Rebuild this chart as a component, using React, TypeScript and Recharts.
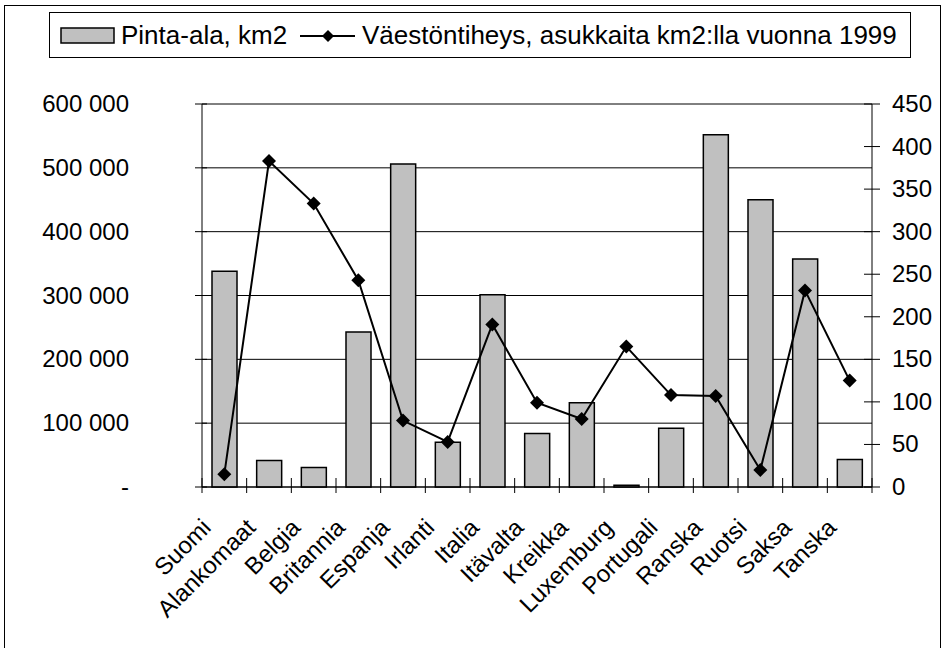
import { Bar, CartesianGrid, ComposedChart, Line, XAxis, YAxis } from "recharts";

const categories = [
  "Suomi",
  "Alankomaat",
  "Belgia",
  "Britannia",
  "Espanja",
  "Irlanti",
  "Italia",
  "Itävalta",
  "Kreikka",
  "Luxemburg",
  "Portugali",
  "Ranska",
  "Ruotsi",
  "Saksa",
  "Tanska",
];

// km2
const area = [
  338000, 41500, 30500, 243000, 506000, 70300, 301300, 83900, 132000, 2600,
  92000, 552000, 450000, 357000, 43100,
];

// asukkaita / km2, 1999
const density = [15, 383, 333, 243, 78, 53, 191, 99, 80, 165, 108, 107, 20, 231, 125];

const leftTicks = [0, 100000, 200000, 300000, 400000, 500000, 600000];
const rightTicks = [0, 50, 100, 150, 200, 250, 300, 350, 400, 450];

const data = categories.map((name, i) => ({
  name,
  area: area[i],
  density: density[i],
}));

const W = 943;
const H = 648;
const FONT = '"Liberation Sans", Arial, sans-serif';
const PLOT_W = 670;
const BAND = PLOT_W / categories.length;

const fmtLeft = (v: number) =>
  v === 0 ? "-" : v.toLocaleString("en-US").replace(/,/g, " ");

function LeftTick({ x, y, payload }: any) {
  return (
    <g>
      <line x1={x - 7} x2={x + 5} y1={y} y2={y} stroke="#000" />
      <text x={x - 73} y={y} dy={8} textAnchor="end" fontSize={24} fill="#000" fontFamily={FONT}>
        {fmtLeft(payload.value)}
      </text>
    </g>
  );
}

function RightTick({ x, y, payload }: any) {
  return (
    <g>
      <line x1={x - 8} x2={x + 8} y1={y} y2={y} stroke="#000" />
      <text x={x + 20} y={y} dy={8} textAnchor="start" fontSize={24} fill="#000" fontFamily={FONT}>
        {payload.value}
      </text>
    </g>
  );
}

function CategoryTick({ x, y, payload, index }: any) {
  const last = index === categories.length - 1;
  return (
    <g>
      <line x1={x - BAND / 2} x2={x - BAND / 2} y1={y - 9} y2={y + 6} stroke="#000" />
      {last && <line x1={x + BAND / 2} x2={x + BAND / 2} y1={y - 9} y2={y + 6} stroke="#000" />}
      <text
        x={x - 12}
        y={y + 42}
        textAnchor="end"
        fontSize={24}
        fill="#000"
        fontFamily={FONT}
        transform={`rotate(-45, ${x - 12}, ${y + 42})`}
      >
        {payload.value}
      </text>
    </g>
  );
}

function Diamond({ cx, cy }: any) {
  if (cx == null || cy == null) return null;
  const r = 7;
  return (
    <polygon
      points={`${cx},${cy - r} ${cx + r},${cy} ${cx},${cy + r} ${cx - r},${cy}`}
      fill="#000"
    />
  );
}

function ChartLegend() {
  return (
    <svg
      width={862}
      height={46}
      style={{ position: "absolute", left: 49, top: 12 }}
    >
      <rect x={0.5} y={0.5} width={861} height={45} fill="#fff" stroke="#000" />
      <rect x={12} y={16} width={53} height={15} fill="#c0c0c0" stroke="#000" strokeWidth={1.5} />
      <text x={72} y={32} fontSize={26} fontFamily={FONT} fill="#000">
        Pinta-ala, km2
      </text>
      <line x1={251} x2={306} y1={24} y2={24} stroke="#000" strokeWidth={2} />
      <polygon points="279,18 285,24 279,30 273,24" fill="#000" />
      <text x={313} y={32} fontSize={26} fontFamily={FONT} fill="#000">
        Väestöntiheys, asukkaita km2:lla vuonna 1999
      </text>
    </svg>
  );
}

export default function App() {
  return (
    <div
      style={{
        position: "absolute",
        left: 0,
        top: 0,
        width: W,
        height: H,
        overflow: "hidden",
        background: "#fff",
        fontFamily: FONT,
      }}
    >
      <div
        style={{
          position: "absolute",
          left: 4,
          top: 5,
          width: 935,
          height: 700,
          border: "1px solid #000",
        }}
      />
      <div style={{ position: "absolute", left: 0, top: 0 }}>
        <ComposedChart
          width={W}
          height={H}
          data={data}
          margin={{ top: 104, right: 11, left: 12, bottom: 41 }}
          barCategoryGap={0}
        >
          <CartesianGrid yAxisId="left" vertical={false} stroke="#000" strokeWidth={1} />
          <XAxis
            dataKey="name"
            interval={0}
            height={120}
            axisLine={{ stroke: "#000" }}
            tickLine={false}
            tickSize={0}
            tickMargin={0}
            tick={<CategoryTick />}
          />
          <YAxis
            yAxisId="left"
            orientation="left"
            width={190}
            domain={[0, 600000]}
            ticks={leftTicks}
            interval={0}
            axisLine={{ stroke: "#000" }}
            tickLine={false}
            tickSize={0}
            tickMargin={0}
            tick={<LeftTick />}
          />
          <YAxis
            yAxisId="right"
            orientation="right"
            width={60}
            domain={[0, 450]}
            ticks={rightTicks}
            interval={0}
            axisLine={{ stroke: "#000" }}
            tickLine={false}
            tickSize={0}
            tickMargin={0}
            tick={<RightTick />}
          />
          <Bar
            yAxisId="left"
            dataKey="area"
            barSize={25}
            fill="#c0c0c0"
            stroke="#000"
            strokeWidth={1.5}
            isAnimationActive={false}
          />
          <Line
            yAxisId="right"
            type="linear"
            dataKey="density"
            stroke="#000"
            strokeWidth={2}
            dot={<Diamond />}
            activeDot={false}
            isAnimationActive={false}
          />
        </ComposedChart>
      </div>
      <ChartLegend />
    </div>
  );
}
